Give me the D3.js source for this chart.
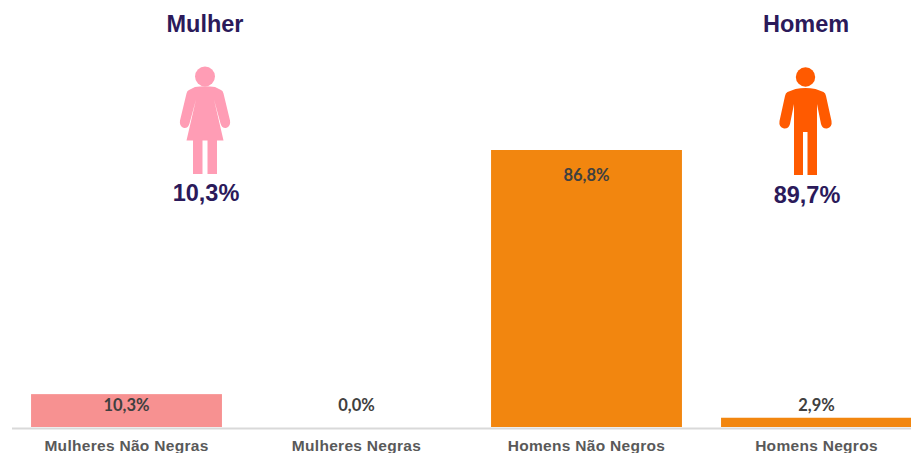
<!DOCTYPE html>
<html>
<head>
<meta charset="utf-8">
<script src="https://cdnjs.cloudflare.com/ajax/libs/d3/7.8.5/d3.min.js"></script>
<style>
html, body { margin: 0; padding: 0; background: #fff; overflow: hidden; }
</style>
</head>
<body>
<div id="chart"></div>
<script>
const categories = ['Mulheres Não Negras', 'Mulheres Negras', 'Homens Não Negros', 'Homens Negros'];
const values = [10.3, 0.0, 86.8, 2.9];
const barColors = ['#f79191', '#f79191', '#f2860f', '#f2860f'];
const genders = ['Mulher', 'Homem'];
const genderShares = ['10,3%', '89,7%'];

const width = 911, height = 453;
const baseline = 427;

const svg = d3.select('#chart').append('svg')
    .attr('width', width)
    .attr('height', height)
    .style('display', 'block');

const x = d3.scaleBand()
    .domain(categories)
    .range([11.5, 931.5])
    .paddingInner(0.17)
    .paddingOuter(0.085);

const y = d3.scaleLinear()
    .domain([0, 86.8])
    .range([baseline, 150]);

const fmt = function(d) { return d.toFixed(1).replace('.', ',') + '%'; };

// bars
svg.append('g').selectAll('rect')
    .data(values)
    .enter().append('rect')
    .attr('x', function(d, i) { return x(categories[i]); })
    .attr('y', function(d) { return y(d); })
    .attr('width', x.bandwidth())
    .attr('height', function(d) { return baseline - y(d); })
    .attr('fill', function(d, i) { return barColors[i]; });

// axis line + category labels
const axis = svg.append('g')
    .attr('transform', 'translate(0,' + (baseline + 1) + ')')
    .call(d3.axisBottom(x).tickSize(0).tickPadding(12));
axis.select('.domain').attr('stroke', '#d9d9d9').attr('stroke-width', 2);
axis.selectAll('text')
    .attr('fill', '#595959')
    .style('font-family', '"Liberation Sans", Arial, sans-serif')
    .style('font-weight', 'bold')
    .style('font-size', '15.5px')
    .style('letter-spacing', '0.3px');

// value labels
svg.append('g').selectAll('text')
    .data(values)
    .enter().append('text')
    .attr('x', function(d, i) { return x(categories[i]) + x.bandwidth() / 2; })
    .attr('y', function(d, i) { return i === 2 ? 181 : 411; })
    .attr('text-anchor', 'middle')
    .attr('fill', '#404040')
    .style('font-family', 'Lato, sans-serif')
    .style('font-weight', 'bold')
    .style('font-size', '16.5px')
    .text(fmt);

// gender headings
const headX = [205, 806];
const shareY = [201, 203];
const textStyle = function(sel, size) {
    sel.attr('text-anchor', 'middle')
        .attr('fill', '#2b1a5a')
        .style('font-family', '"Liberation Sans", Arial, sans-serif')
        .style('font-weight', 'bold')
        .style('font-size', size);
};
genders.forEach(function(g, i) {
    svg.append('text').attr('x', headX[i]).attr('y', 32).call(textStyle, '23.5px').text(g);
    svg.append('text').attr('x', headX[i] + 1).attr('y', shareY[i]).call(textStyle, '23.5px').text(genderShares[i]);
});

// pictograms, drawn around the head centre
const woman = svg.append('g').attr('transform', 'translate(205,76.5)').attr('fill', '#ff9db5');
woman.append('circle').attr('r', 10);
woman.append('path').attr('d', 'M-10,10.5 Q0,9 10,10.5 L16,13.5 Q18,14 18.5,17 L25,44 Q26,50 21,51.5 Q17,52 15.5,47 L9,23 L18.5,64 L-18.5,64 L-9,23 L-15.5,47 Q-17,52 -21,51.5 Q-26,50 -25,44 L-18.5,17 Q-18,14 -16,13.5 Z');
woman.append('rect').attr('x', -12).attr('y', 63).attr('width', 9.5).attr('height', 34.5);
woman.append('rect').attr('x', 2.5).attr('y', 63).attr('width', 9.5).attr('height', 34.5);

const man = svg.append('g').attr('transform', 'translate(805.5,77)').attr('fill', '#ff5a00');
man.append('circle').attr('r', 9.7);
man.append('path').attr('d', 'M-10,12 Q0,10 10,12 L18,15 Q20,16 20.5,19 L26,44 Q27,50 21.5,51.5 Q17,52 15.5,47 L11.5,27 L11.5,98 L2,98 L2,55 L-2.5,55 L-2.5,98 L-11.5,98 L-11.5,27 L-15.5,47 Q-17,52 -21.5,51.5 Q-27,50 -26,44 L-20.5,19 Q-20,16 -18,15 Z');
</script>
</body>
</html>
